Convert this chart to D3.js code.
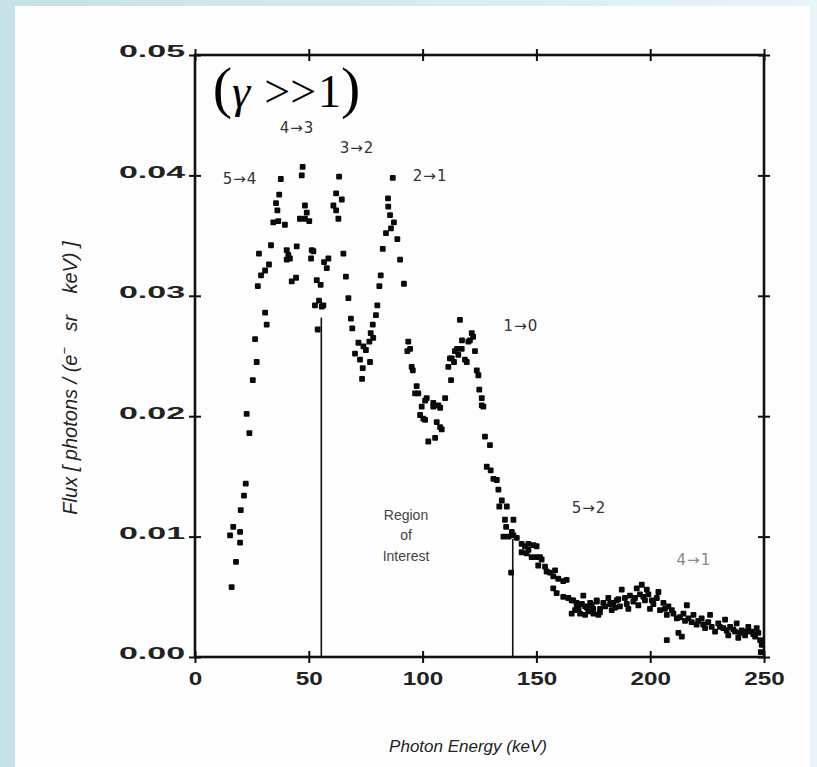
<!DOCTYPE html>
<html><head><meta charset="utf-8">
<script src="https://cdn.jsdelivr.net/npm/d3@7"></script>
<style>html,body{margin:0;padding:0;background:#d6ebef;}svg{display:block;}</style>
</head><body><div id="chart"></div>
<script>
// ---- data (photon energy keV, flux photons/(e- sr keV)) ----
const risingEdge = [[16.1,0.0058],[18.0,0.0079],[15.4,0.0101],[19.8,0.0095],[16.8,0.0108],[19.8,0.0104],[20.1,0.0122],[21.5,0.0134],[22.3,0.0144],[23.9,0.0186],[22.7,0.0202],[25.4,0.0230],[27.1,0.0245],[26.4,0.0264],[31.5,0.0276],[30.8,0.0286],[27.6,0.0308],[29.0,0.0317],[30.8,0.0321],[32.5,0.0326],[28.1,0.0335],[33.4,0.0342]];
const peaks54_43 = [[34.4,0.0361],[36.6,0.0362],[39.5,0.0359],[36.2,0.0371],[35.6,0.0377],[37.0,0.0384],[37.7,0.0397],[41.0,0.0334],[41.7,0.0331],[44.7,0.0341],[40.3,0.0338],[40.3,0.0330],[42.5,0.0312],[44.4,0.0315],[47.3,0.0407],[46.9,0.0400],[48.3,0.0375],[49.1,0.0369],[46.1,0.0364],[48.3,0.0364],[50.2,0.0362],[51.3,0.0338],[51.0,0.0331],[52.0,0.0337],[53.5,0.0313],[55.2,0.0309],[52.7,0.0292],[55.7,0.0291],[53.9,0.0272],[54.5,0.0296],[56.4,0.0292],[58.6,0.0331],[57.9,0.0323],[56.7,0.0328]];
const peaks32_21 = [[63.3,0.0399],[62.0,0.0385],[64.5,0.0380],[60.8,0.0375],[62.0,0.0371],[63.0,0.0364],[65.2,0.0335],[66.3,0.0316],[67.4,0.0298],[68.5,0.0281],[69.1,0.0273],[71.8,0.0261],[74.0,0.0258],[70.3,0.0252],[75.1,0.0255],[72.5,0.0247],[76.9,0.0245],[73.7,0.0240],[73.4,0.0231],[76.6,0.0262],[78.3,0.0265],[77.2,0.0269],[78.1,0.0276],[79.5,0.0284],[80.1,0.0292],[81.0,0.0308],[81.6,0.0317],[82.5,0.0339],[83.9,0.0352],[84.9,0.0374],[85.7,0.0367],[87.4,0.0361],[86.9,0.0398],[88.9,0.0347],[90.1,0.0330],[91.8,0.0310],[84.8,0.0381],[86.1,0.0356]];
const dip10 = [[93.7,0.0262],[94.5,0.0256],[93.3,0.0254],[95.2,0.0241],[95.7,0.0238],[97.4,0.0225],[96.7,0.0219],[98.1,0.0219],[101.1,0.0213],[99.6,0.0208],[98.9,0.0201],[101.1,0.0197],[100.3,0.0198],[101.8,0.0215],[104.7,0.0211],[104.7,0.0208],[107.7,0.0207],[106.2,0.0195],[107.7,0.0191],[108.4,0.0189],[102.5,0.0179],[105.5,0.0182],[106.9,0.0209],[109.9,0.0215],[112.5,0.0230],[111.3,0.0241],[112.0,0.0248],[114.2,0.0254],[112.8,0.0248],[115.7,0.0251],[117.2,0.0256],[118.6,0.0247],[119.4,0.0245],[120.1,0.0262],[121.6,0.0269],[123.0,0.0254],[116.4,0.0280],[117.3,0.0263],[120.8,0.0263],[122.2,0.0266],[115.1,0.0256],[113.8,0.0245],[123.8,0.0238],[124.5,0.0234],[124.9,0.0222],[126.0,0.0215],[126.0,0.0209],[126.7,0.0208]];
const falloff = [[127.4,0.0183],[129.6,0.0176],[128.2,0.0158],[129.9,0.0155],[131.1,0.0148],[132.6,0.0147],[133.3,0.0139],[134.8,0.0130],[133.7,0.0125],[137.0,0.0125],[136.2,0.0114],[139.9,0.0114],[136.7,0.0108],[139.2,0.0104],[135.5,0.0100],[137.7,0.0100],[139.9,0.0101],[141.4,0.0099],[138.9,0.0070],[143.5,0.0094],[145.0,0.0092],[146.5,0.0094],[148.7,0.0093],[150.1,0.0092],[143.5,0.0087],[145.7,0.0086],[147.9,0.0083],[150.1,0.0083],[152.3,0.0081],[150.8,0.0076],[153.8,0.0075],[154.5,0.0071],[156.0,0.0070],[158.2,0.0072],[157.4,0.0067],[159.6,0.0065],[161.8,0.0063],[163.3,0.0064],[157.4,0.0057],[158.9,0.0053],[161.8,0.0050],[164.0,0.0049],[165.5,0.0047],[167.7,0.0045],[167.0,0.0039],[169.2,0.0036],[171.4,0.0042],[172.8,0.0038],[175.0,0.0040],[176.5,0.0046],[177.2,0.0035],[146.5,0.0089],[151.6,0.0083]];
const tail = [[166.2,0.0047],[165.5,0.0036],[167.7,0.0042],[170.6,0.0051],[171.4,0.0035],[173.6,0.0045],[175.0,0.0036],[176.5,0.0047],[178.0,0.0040],[179.4,0.0045],[181.6,0.0049],[183.1,0.0039],[183.8,0.0045],[185.3,0.0047],[187.5,0.0056],[186.7,0.0042],[188.9,0.0049],[190.4,0.0040],[191.1,0.0051],[192.6,0.0046],[194.1,0.0057],[194.8,0.0043],[196.3,0.0060],[197.7,0.0047],[198.5,0.0056],[199.9,0.0040],[200.7,0.0047],[203.6,0.0054],[204.3,0.0039],[205.8,0.0045],[207.3,0.0035],[207.3,0.0014],[208.0,0.0042],[210.2,0.0036],[211.7,0.0032],[212.4,0.0020],[213.9,0.0017],[214.6,0.0036],[216.1,0.0043],[216.8,0.0032],[219.0,0.0035],[220.4,0.0027],[222.6,0.0032],[224.1,0.0024],[226.3,0.0035],[227.0,0.0025],[228.5,0.0021],[229.9,0.0028],[232.1,0.0024],[232.9,0.0031],[234.3,0.0018],[235.1,0.0025],[237.3,0.0021],[238.0,0.0028],[238.7,0.0016],[240.2,0.0022],[241.7,0.0018],[243.1,0.0025],[244.6,0.0021],[246.1,0.0017],[246.8,0.0024],[248.3,0.0014],[248.6,0.0004],[247.5,0.0020],
  [168.5,0.0040],[170.0,0.0044],[172.2,0.0041],[174.3,0.0043],[177.9,0.0037],[180.2,0.0042],[182.4,0.0044],[184.6,0.0041],[186.0,0.0048],[189.7,0.0044],[193.3,0.0049],[195.5,0.0052],[197.0,0.0050],[199.2,0.0052],[201.4,0.0044],[202.9,0.0049],[206.5,0.0040],[209.5,0.0039],[213.1,0.0033],[215.3,0.0030],[218.2,0.0029],[221.1,0.0030],[223.3,0.0027],[225.5,0.0029],[230.6,0.0025],[233.6,0.0022],[236.5,0.0023],[239.4,0.0020],[242.4,0.0021],[245.3,0.0019],[249.0,0.0010]];

const xTicks = [0, 50, 100, 150, 200, 250];
const yTicks = [0, 0.01, 0.02, 0.03, 0.04, 0.05];
const yTickLabels = ["0.00", "0.01", "0.02", "0.03", "0.04", "0.05"];

// region of interest boundaries: [energy, top flux]
const roiLines = [[55.5, 0.0282], [139.6, 0.0098]];

// transition labels
const transitionLabels = ["5\u21924", "4\u21923", "3\u21922", "2\u21921", "1\u21920", "5\u21922", "4\u21921"];
const labelEnergy = [19.8, 44.8, 71.2, 103.3, 143.2, 173.1, 219.2];
const labelFlux = [0.0393, 0.0435, 0.0419, 0.0395, 0.0271, 0.0120, 0.0076];
const roiText = ["Region", "of", "Interest"];
const roiFlux = [0.0114, 0.0097, 0.0080];

// ---- drawing ----
const W = 817, H = 767;
const svg = d3.select("#chart").append("svg").attr("width", W).attr("height", H);
const defs = svg.append("defs");
const g1 = defs.append("linearGradient").attr("id", "bg").attr("x1", 0).attr("x2", 1).attr("y1", 0).attr("y2", 0);
g1.append("stop").attr("offset", "0").attr("stop-color", "#c6e1e7");
g1.append("stop").attr("offset", "1").attr("stop-color", "#e8f4f6");
svg.append("rect").attr("width", W).attr("height", H).attr("fill", "url(#bg)");
svg.append("rect").attr("x", 15).attr("y", 6).attr("width", 795).attr("height", H - 6).attr("fill", "#fdfdfd");

const x = d3.scaleLinear().domain([0, 250]).range([195, 764]);
const y = d3.scaleLinear().domain([0, 0.05]).range([657, 55]);

const ink = "#111";

// frame
svg.append("rect").attr("x", x(0)).attr("y", y(0.05)).attr("width", x(250) - x(0)).attr("height", y(0) - y(0.05))
  .attr("fill", "none").attr("stroke", ink).attr("stroke-width", 2.6);

// axes with crossing ticks
const axB = svg.append("g").attr("transform", `translate(0,${y(0)})`)
  .call(d3.axisBottom(x).tickValues(xTicks).tickSize(6).tickFormat(d3.format("d")));
const axT = svg.append("g").attr("transform", `translate(0,${y(0.05)})`)
  .call(d3.axisTop(x).tickValues(xTicks).tickSize(6).tickFormat(""));
const axL = svg.append("g").attr("transform", `translate(${x(0)},0)`)
  .call(d3.axisLeft(y).tickValues(yTicks).tickSize(6).tickFormat((d, i) => yTickLabels[i]));
const axR = svg.append("g").attr("transform", `translate(${x(250)},0)`)
  .call(d3.axisRight(y).tickValues(yTicks).tickSize(6).tickFormat(""));
[axB, axT, axL, axR].forEach(a => {
  a.select(".domain").remove();
  a.selectAll(".tick line").attr("stroke", ink).attr("stroke-width", 2);
});
axB.selectAll(".tick line").attr("y1", -6);
axT.selectAll(".tick line").attr("y1", 6);
axL.selectAll(".tick line").attr("x1", 6);
axR.selectAll(".tick line").attr("x1", -6);

axB.selectAll(".tick text").attr("y", 15).attr("dy", "0.71em")
  .attr("font-family", "'Liberation Sans', Arial, sans-serif").attr("font-weight", "bold")
  .attr("font-size", 18).attr("fill", "#222")
  .attr("textLength", (d, i) => String(xTicks[i]).length * 13.5).attr("lengthAdjust", "spacingAndGlyphs");
axL.selectAll(".tick text").attr("x", -10).attr("dy", "0.12em")
  .attr("font-family", "'Liberation Sans', Arial, sans-serif").attr("font-weight", "bold")
  .attr("font-size", 16).attr("fill", "#222")
  .attr("textLength", 66).attr("lengthAdjust", "spacingAndGlyphs");

// region of interest lines
svg.append("g").selectAll("line").data(roiLines).join("line")
  .attr("x1", d => x(d[0])).attr("x2", d => x(d[0]))
  .attr("y1", y(0)).attr("y2", d => y(d[1]))
  .attr("stroke", ink).attr("stroke-width", 1.6);

// data points
const allPoints = [].concat(risingEdge, peaks54_43, peaks32_21, dip10, falloff, tail);
const s = 5.8;
svg.append("g").selectAll("rect").data(allPoints).join("rect")
  .attr("x", d => x(d[0]) - s / 2).attr("y", d => y(d[1]) - s / 2)
  .attr("width", s).attr("height", s).attr("rx", 1)
  .attr("fill", "#0a0a0a");

// transition labels
svg.append("g").selectAll("text").data(transitionLabels).join("text")
  .attr("x", (d, i) => x(labelEnergy[i])).attr("y", (d, i) => y(labelFlux[i]))
  .attr("text-anchor", "middle")
  .attr("font-family", "'DejaVu Sans', sans-serif").attr("font-size", 15).attr("letter-spacing", 1)
  .attr("fill", (d, i) => i === 6 ? "#888" : "#333")
  .text(d => d);

svg.append("g").selectAll("text").data(roiText).join("text")
  .attr("x", x(92.7)).attr("y", (d, i) => y(roiFlux[i]))
  .attr("text-anchor", "middle")
  .attr("font-family", "'Liberation Sans', Arial, sans-serif").attr("font-size", 14)
  .attr("fill", "#444").text(d => d);

// (gamma >> 1)
const gt = svg.append("text").attr("x", x(7.8)).attr("y", y(0.0457))
  .attr("font-family", "'Liberation Serif', 'Times New Roman', serif").attr("fill", "#000");
gt.append("tspan").attr("font-size", 58).text("(");
gt.append("tspan").attr("font-size", 46).attr("font-style", "italic").text("\u03b3");
gt.append("tspan").attr("font-size", 46).attr("dx", 14).text(">>");
gt.append("tspan").attr("font-size", 46).attr("dx", 2).text("1");
gt.append("tspan").attr("font-size", 58).text(")");

// axis titles
svg.append("text").attr("x", 468).attr("y", 752).attr("text-anchor", "middle")
  .attr("font-family", "'Liberation Sans', Arial, sans-serif").attr("font-style", "italic")
  .attr("font-size", 17).attr("fill", "#222").text("Photon Energy (keV)");

const yt = svg.append("text").attr("transform", "translate(77,378) rotate(-90)").attr("text-anchor", "middle")
  .attr("font-family", "'Liberation Sans', Arial, sans-serif").attr("font-style", "italic")
  .attr("font-size", 20).attr("fill", "#222");
yt.append("tspan").text("Flux [ photons / (e");
yt.append("tspan").attr("font-size", 13).attr("dy", -8).text("\u2212");
yt.append("tspan").attr("dy", 8).text("\u2002 sr \u2002 keV) ]");
</script></body></html>
